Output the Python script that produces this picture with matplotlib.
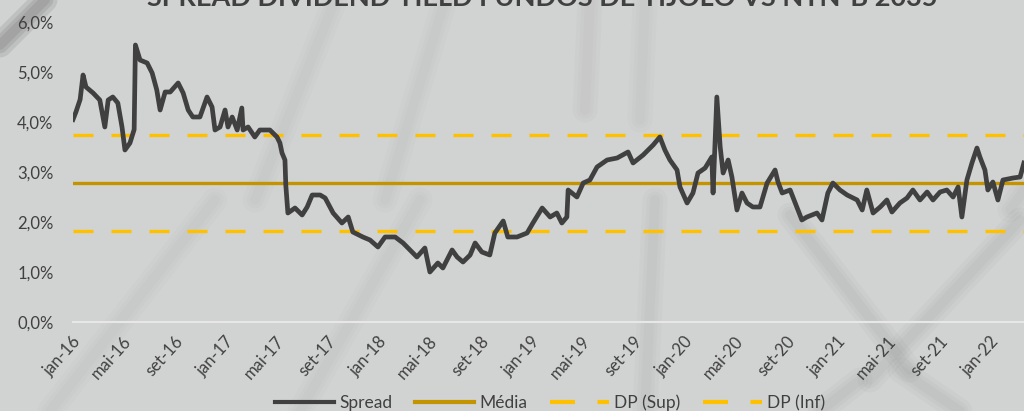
import numpy as np
import pandas as pd
import matplotlib
matplotlib.use("Agg")
import matplotlib.pyplot as plt
import matplotlib.transforms as mtransforms
from matplotlib.lines import Line2D

plt.rcParams['font.family'] = ['Lato', 'DejaVu Sans']

# data (spread in %)
dates = [
    "2016-01-01", "2016-01-08", "2016-01-18", "2016-01-25", "2016-02-01", "2016-02-18", "2016-03-05",
    "2016-03-17", "2016-03-25", "2016-04-05", "2016-04-17", "2016-04-27", "2016-05-04", "2016-05-16",
    "2016-05-26", "2016-05-29", "2016-06-09", "2016-06-26", "2016-07-08", "2016-07-19", "2016-07-27",
    "2016-08-08", "2016-08-20", "2016-09-08", "2016-09-20", "2016-10-02", "2016-10-13", "2016-10-30",
    "2016-11-16", "2016-11-28", "2016-12-05", "2016-12-17", "2016-12-29", "2017-01-05", "2017-01-15",
    "2017-01-27", "2017-02-07", "2017-02-10", "2017-02-22", "2017-03-10", "2017-03-22", "2017-04-15",
    "2017-05-02", "2017-05-09", "2017-05-14", "2017-05-21", "2017-05-23", "2017-05-28", "2017-06-14",
    "2017-07-01", "2017-07-13", "2017-07-25", "2017-08-13", "2017-08-25", "2017-09-13", "2017-10-04",
    "2017-10-19", "2017-10-30", "2017-11-23", "2017-12-10", "2017-12-29", "2018-01-15", "2018-02-08",
    "2018-02-27", "2018-04-01", "2018-04-20", "2018-05-02", "2018-05-21", "2018-06-02", "2018-06-24",
    "2018-07-06", "2018-07-20", "2018-08-06", "2018-08-18", "2018-09-03", "2018-09-22", "2018-10-04",
    "2018-10-24", "2018-11-04", "2018-11-26", "2018-12-20", "2019-01-03", "2019-01-25", "2019-02-13",
    "2019-03-01", "2019-03-13", "2019-03-25", "2019-03-28", "2019-04-18", "2019-05-03", "2019-05-19",
    "2019-06-05", "2019-06-29", "2019-07-23", "2019-08-18", "2019-08-30", "2019-09-23", "2019-10-17",
    "2019-11-02", "2019-11-14", "2019-11-26", "2019-12-13", "2019-12-20", "2020-01-06", "2020-01-20",
    "2020-02-01", "2020-02-18", "2020-03-05", "2020-03-08", "2020-03-17", "2020-03-25", "2020-04-01",
    "2020-04-13", "2020-04-22", "2020-05-04", "2020-05-16", "2020-05-28", "2020-06-11", "2020-06-28",
    "2020-07-15", "2020-08-03", "2020-08-10", "2020-08-20", "2020-09-08", "2020-09-24", "2020-10-06",
    "2020-10-18", "2020-11-11", "2020-11-23", "2020-12-07", "2020-12-19", "2021-01-05", "2021-01-22",
    "2021-02-15", "2021-02-27", "2021-03-10", "2021-03-25", "2021-04-11", "2021-04-27", "2021-05-09",
    "2021-05-28", "2021-06-14", "2021-06-28", "2021-07-15", "2021-08-01", "2021-08-15", "2021-09-01",
    "2021-09-17", "2021-10-02", "2021-10-14", "2021-10-23", "2021-11-04", "2021-11-16", "2021-11-28",
    "2021-12-05", "2021-12-17", "2021-12-24", "2022-01-05", "2022-01-17", "2022-01-29", "2022-02-22",
    "2022-03-11", "2022-03-20",
]
spread = [
    4.05, 4.2, 4.45, 4.94, 4.7, 4.58, 4.44,
    3.9, 4.44, 4.5, 4.38, 3.9, 3.44, 3.58,
    3.85, 5.54, 5.24, 5.18, 4.98, 4.64, 4.24,
    4.6, 4.6, 4.78, 4.58, 4.24, 4.1, 4.1,
    4.5, 4.3, 3.84, 3.9, 4.24, 3.9, 4.1,
    3.84, 4.28, 3.84, 3.9, 3.7, 3.84, 3.84,
    3.7, 3.58, 3.38, 3.24, 2.74, 2.18, 2.28,
    2.14, 2.3, 2.54, 2.54, 2.48, 2.18, 1.98,
    2.1, 1.8, 1.7, 1.64, 1.5, 1.7, 1.7,
    1.58, 1.3, 1.48, 1.0, 1.18, 1.08, 1.44,
    1.3, 1.2, 1.34, 1.58, 1.4, 1.34, 1.78,
    2.02, 1.7, 1.7, 1.78, 1.98, 2.28, 2.1,
    2.18, 1.98, 2.1, 2.64, 2.5, 2.78, 2.84,
    3.1, 3.24, 3.28, 3.4, 3.18, 3.34, 3.54,
    3.7, 3.44, 3.24, 3.04, 2.7, 2.38, 2.58,
    2.98, 3.08, 3.3, 2.58, 4.5, 3.5, 2.98,
    3.24, 2.9, 2.24, 2.58, 2.38, 2.3, 2.3,
    2.78, 3.04, 2.8, 2.58, 2.64, 2.3, 2.04,
    2.1, 2.18, 2.04, 2.58, 2.78, 2.64, 2.54,
    2.44, 2.24, 2.64, 2.18, 2.3, 2.44, 2.2,
    2.38, 2.48, 2.64, 2.44, 2.6, 2.44, 2.6,
    2.64, 2.5, 2.7, 2.1, 2.84, 3.18, 3.48,
    3.3, 3.04, 2.64, 2.8, 2.44, 2.84, 2.88,
    2.9, 3.18,
]
media = 2.78
dp_sup = 3.74
dp_inf = 1.82

tick_dates = pd.date_range("2016-01-01", "2022-01-01", freq="4MS")
month_names = {1: "jan", 5: "mai", 9: "set"}
tick_labels = [f"{month_names[d.month]}-{d.strftime('%y')}" for d in tick_dates]

dates = pd.to_datetime(dates)

W, H = 1024, 411
fig = plt.figure(figsize=(W / 100, H / 100), dpi=100)
fig.patch.set_facecolor('#d1d3d2')

# soft background streaks (texture of the original)
bg = fig.add_axes([0, 0, 1, 1], zorder=-10)
bg.set_xlim(0, W)
bg.set_ylim(H, 0)
bg.axis('off')
streaks = [
    (0, 45, 45, 0, 0.35), (255, 200, 335, 0, 0.05), (385, 200, 445, 0, 0.04),
    (50, 411, 215, 200, 0.05), (300, 411, 420, 200, 0.04),
    (590, 0, 585, 110, 0.06), (645, 0, 640, 120, 0.05),
    (655, 200, 645, 411, 0.07), (790, 215, 910, 370, 0.1), (1020, 220, 870, 380, 0.1),
    (900, 370, 960, 411, 0.09), (860, 380, 820, 411, 0.09), (1010, 210, 1024, 190, 0.07),
]
for x0, y0, x1, y1, a in streaks:
    for lw in [18, 12, 7]:
        bg.plot([x0, x1], [y0, y1], color='#606060', lw=lw, alpha=a * 0.45, solid_capstyle='round')

# main axes, right side runs past the figure edge like the cropped original
start = pd.Timestamp("2016-01-01")
end = pd.Timestamp("2022-06-30")
px_per_day = 153 / 365.25
ax_left = 73 / W
ax_width = (end - start).days * px_per_day / W
ax = fig.add_axes([ax_left, (H - 322) / H, ax_width, 300 / H])
ax.patch.set_alpha(0)

ax.axhline(media, color='#C49400', lw=2.4, zorder=2)
ax.axhline(dp_sup, color='#FFC000', lw=2.4, dashes=(6, 5.4), zorder=2)
ax.axhline(dp_inf, color='#FFC000', lw=2.4, dashes=(6, 5.4), zorder=2)
ax.plot(dates, spread, color='#404040', lw=3.4, zorder=3, solid_joinstyle='round')

ax.set_xlim(start, end)
ax.set_ylim(0, 6)
ax.set_yticks(np.arange(0, 7, 1))
ax.set_yticklabels([f"{v:.1f}%".replace('.', ',') for v in range(7)])
ax.set_xticks(tick_dates)
ax.set_xticklabels(tick_labels, rotation=48, ha='right', va='center', rotation_mode='anchor')

for s in ['top', 'right', 'left']:
    ax.spines[s].set_visible(False)
ax.spines['bottom'].set_color('#e6e7e6')
ax.spines['bottom'].set_linewidth(1.5)
ax.tick_params(axis='both', length=0, colors='#404040')
ax.tick_params(axis='y', pad=14, labelsize=12)
ax.tick_params(axis='x', pad=12, labelsize=12)

shift = mtransforms.ScaledTranslation(5 / 100, 0, fig.dpi_scale_trans)
for lbl in ax.get_xticklabels():
    lbl.set_transform(lbl.get_transform() + shift)

fig.text(542 / W, 1 - 6 / H, "SPREAD DIVIDEND YIELD FUNDOS DE TIJOLO VS NTN-B 2035",
         ha='center', va='baseline', fontsize=19.5, fontweight='bold', color='#404040')

handles = [
    Line2D([], [], color='#404040', lw=3.0),
    Line2D([], [], color='#C49400', lw=3.0),
    Line2D([], [], color='#FFC000', lw=3.0, dashes=(6, 5.4)),
    Line2D([], [], color='#FFC000', lw=3.0, dashes=(6, 5.4)),
]
fig.legend(handles, ["Spread", "Média", "DP (Sup)", "DP (Inf)"], loc='center',
           bbox_to_anchor=(550 / W, 8 / H), ncol=4, frameon=False, fontsize=12.5,
           handlelength=3.4, handletextpad=0.3, columnspacing=1.3, labelcolor='#404040')

fig.savefig("out.png", dpi=100, facecolor=fig.get_facecolor())
